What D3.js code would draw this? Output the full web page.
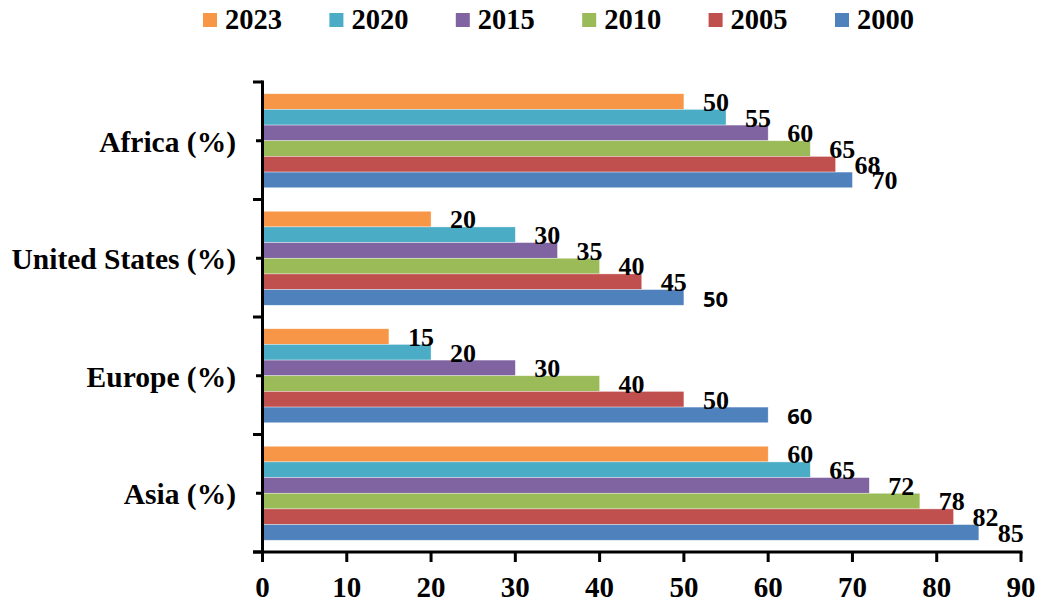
<!DOCTYPE html>
<html>
<head>
<meta charset="utf-8">
<script src="https://cdn.jsdelivr.net/npm/d3@7"></script>
<style>
  html, body { margin: 0; padding: 0; background: #fff; }
  svg { display: block; }
</style>
</head>
<body>
<svg id="chart" width="1043" height="607"></svg>
<script>
// ---- Data ----
const categories = ["Africa (%)", "United States (%)", "Europe (%)", "Asia (%)"];
const seriesNames = ["2023", "2020", "2015", "2010", "2005", "2000"];
const values2023 = [50, 20, 15, 60];
const values2020 = [55, 30, 20, 65];
const values2015 = [60, 35, 30, 72];
const values2010 = [65, 40, 40, 78];
const values2005 = [68, 45, 50, 82];
const values2000 = [70, 50, 60, 85];
const seriesValues = [values2023, values2020, values2015, values2010, values2005, values2000];
const xTicks = [0, 10, 20, 30, 40, 50, 60, 70, 80, 90];

// ---- Styles ----
const colors = ["#F79646", "#4BACC6", "#8064A2", "#9BBB59", "#C0504D", "#4F81BD"];
const serif = "'Liberation Serif', 'Times New Roman', serif";
const sans = "'Open Sans', 'Liberation Sans', sans-serif";
// labels of the 2000 series drawn in a sans face in the original
const sansLabelCats = ["United States (%)", "Europe (%)"];

const svg = d3.select("#chart");

const x = d3.scaleLinear().domain([0, 90]).range([262.5, 1021]);
const y = d3.scaleBand().domain(categories).range([82, 552]).paddingInner(0.2).paddingOuter(0.1);
const yStep = y.step();
const ySub = d3.scaleBand().domain(seriesNames).range([0, y.bandwidth()]);

// ---- Bars ----
const rows = [];
seriesNames.forEach((s, si) => {
  categories.forEach((c, ci) => {
    rows.push({ series: s, si, cat: c, value: seriesValues[si][ci] });
  });
});

svg.append("g").selectAll("rect")
  .data(rows)
  .join("rect")
  .attr("x", x(0))
  .attr("y", d => y(d.cat) + ySub(d.series))
  .attr("width", d => x(d.value) - x(0))
  .attr("height", ySub.bandwidth())
  .attr("fill", d => colors[d.si])
  .attr("stroke", "rgba(255,255,255,0.6)")
  .attr("stroke-width", 0.6);

// ---- Data labels ----
svg.append("g").selectAll("text")
  .data(rows)
  .join("text")
  .attr("x", d => x(d.value) + 19)
  .attr("y", d => y(d.cat) + ySub(d.series) + ySub.bandwidth() / 2 + 9.3)
  .attr("text-anchor", "start")
  .style("font-family", d => (d.series === "2000" && sansLabelCats.includes(d.cat)) ? sans : serif)
  .style("font-size", d => (d.series === "2000" && sansLabelCats.includes(d.cat)) ? "22px" : "26px")
  .style("font-weight", "bold")
  .attr("fill", "#000")
  .text(d => d.value);

// ---- Axes ----
const axisG = svg.append("g").attr("stroke", "#000").attr("stroke-width", 3).attr("fill", "none");
// y axis line
axisG.append("line").attr("x1", x(0)).attr("x2", x(0)).attr("y1", 80.5).attr("y2", 553.5);
// x axis line
axisG.append("line").attr("x1", 253).attr("x2", x(90) + 1.5).attr("y1", 552).attr("y2", 552);
// y boundary ticks
const boundaries = categories.map(c => y(c) - y.step() * y.paddingOuter()).concat([552]);
axisG.selectAll("line.yb").data(boundaries).join("line").attr("class", "yb")
  .attr("x1", 253).attr("x2", x(0)).attr("y1", d => d).attr("y2", d => d);
// y center ticks
axisG.selectAll("line.yc").data(categories).join("line").attr("class", "yc")
  .attr("x1", 256).attr("x2", x(0))
  .attr("y1", d => y(d) + y.bandwidth() / 2).attr("y2", d => y(d) + y.bandwidth() / 2);
// x ticks
axisG.selectAll("line.xt").data(xTicks).join("line").attr("class", "xt")
  .attr("x1", d => x(d)).attr("x2", d => x(d)).attr("y1", 552).attr("y2", 562);

// x tick labels
svg.append("g").selectAll("text")
  .data(xTicks)
  .join("text")
  .attr("x", d => x(d))
  .attr("y", 597)
  .attr("text-anchor", "middle")
  .style("font-family", serif)
  .style("font-size", "29px")
  .style("font-weight", "bold")
  .text(d => d);

// category labels
svg.append("g").selectAll("text")
  .data(categories)
  .join("text")
  .attr("x", 236)
  .attr("y", d => y(d) + y.bandwidth() / 2 + 11)
  .attr("text-anchor", "end")
  .style("font-family", serif)
  .style("font-size", "29.5px")
  .style("font-weight", "bold")
  .text(d => d);

// ---- Legend ----
const legendX = d3.scalePoint().domain(seriesNames).range([203, 835]);
const lg = svg.append("g").selectAll("g").data(seriesNames).join("g")
  .attr("transform", d => `translate(${legendX(d)},0)`);
lg.append("rect").attr("x", 0).attr("y", 13).attr("width", 14).attr("height", 14)
  .attr("fill", (d, i) => colors[i]);
lg.append("text").attr("x", 22).attr("y", 29)
  .style("font-family", serif).style("font-size", "28.5px").style("font-weight", "bold")
  .text(d => d);
</script>
</body>
</html>
